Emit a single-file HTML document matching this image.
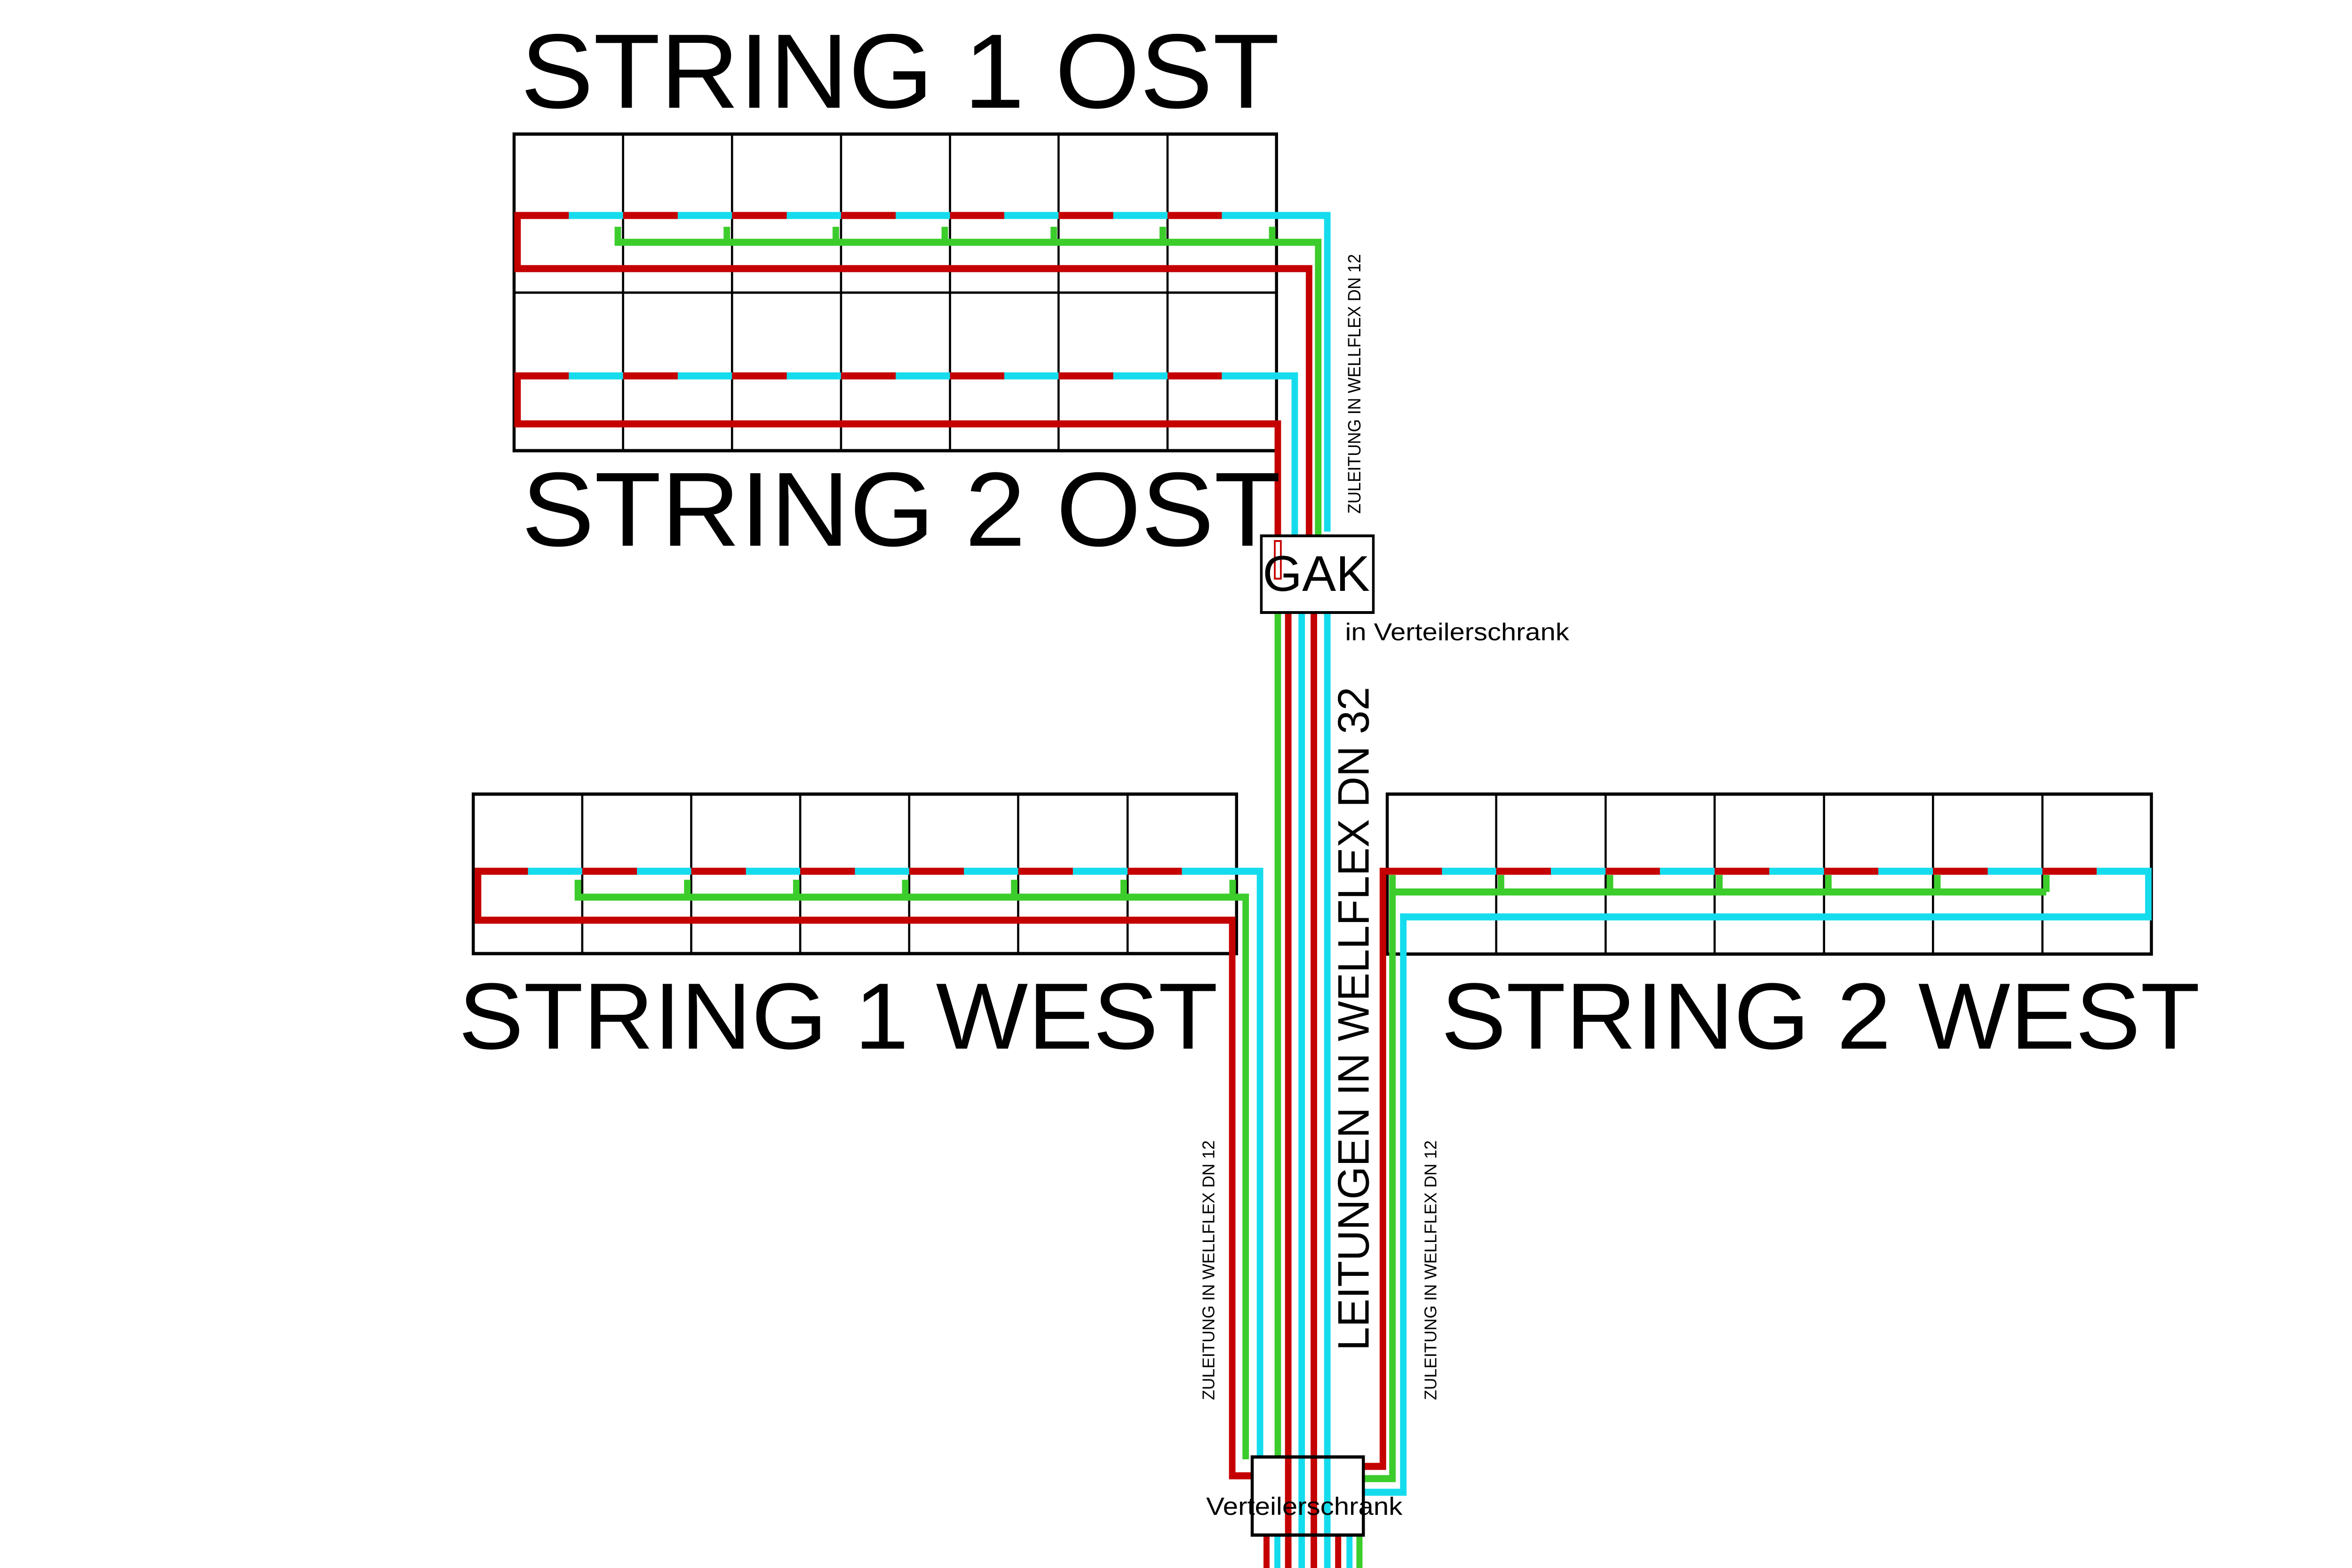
<!DOCTYPE html>
<html><head><meta charset="utf-8"><style>
html,body{margin:0;padding:0;background:#fff;width:100%;height:100%;overflow:hidden;}
svg{display:block;width:100vw;height:100vh;}
text{font-family:"Liberation Sans",Arial,sans-serif;fill:#000;}
</style></head><body>
<svg xmlns="http://www.w3.org/2000/svg" viewBox="0 0 5417 3333" preserveAspectRatio="none">
<rect width="5417" height="3333" fill="#fff"/>

<g stroke="#000" stroke-width="5" fill="none">
  <rect x="1184" y="285" width="1756" height="673" stroke-width="7"/>
  <line x1="1184" y1="622" x2="2940" y2="622"/>
  <line x1="1435" y1="285" x2="1435" y2="958"/><line x1="1686" y1="285" x2="1686" y2="958"/>
  <line x1="1937" y1="285" x2="1937" y2="958"/><line x1="2188" y1="285" x2="2188" y2="958"/>
  <line x1="2438" y1="285" x2="2438" y2="958"/><line x1="2689" y1="285" x2="2689" y2="958"/>

  <rect x="1090" y="1688" width="1758" height="339" stroke-width="7"/>
  <line x1="1341" y1="1688" x2="1341" y2="2027"/><line x1="1592" y1="1688" x2="1592" y2="2027"/>
  <line x1="1843" y1="1688" x2="1843" y2="2027"/><line x1="2094" y1="1688" x2="2094" y2="2027"/>
  <line x1="2345" y1="1688" x2="2345" y2="2027"/><line x1="2597" y1="1688" x2="2597" y2="2027"/>

  <rect x="3195" y="1688" width="1760" height="340" stroke-width="7"/>
  <line x1="3446" y1="1688" x2="3446" y2="2028"/><line x1="3698" y1="1688" x2="3698" y2="2028"/>
  <line x1="3949" y1="1688" x2="3949" y2="2028"/><line x1="4201" y1="1688" x2="4201" y2="2028"/>
  <line x1="4452" y1="1688" x2="4452" y2="2028"/><line x1="4704" y1="1688" x2="4704" y2="2028"/>
</g>

<g fill="none" stroke-width="15">
  <g stroke="#15dced">
    <line x1="1310" y1="458" x2="1435" y2="458"/><line x1="1561" y1="458" x2="1686" y2="458"/>
    <line x1="1812" y1="458" x2="1937" y2="458"/><line x1="2063" y1="458" x2="2188" y2="458"/>
    <line x1="2313" y1="458" x2="2438" y2="458"/><line x1="2564" y1="458" x2="2689" y2="458"/>
    <polyline points="2814,458 3057,458 3057,1130"/>
  </g>
  <g stroke="#c40000">
    <polyline points="1310,458 1192,458 1192,571 3015,571 3015,1150"/>
    <line x1="1435" y1="458" x2="1561" y2="458"/><line x1="1686" y1="458" x2="1812" y2="458"/>
    <line x1="1937" y1="458" x2="2063" y2="458"/><line x1="2188" y1="458" x2="2313" y2="458"/>
    <line x1="2438" y1="458" x2="2564" y2="458"/><line x1="2689" y1="458" x2="2814" y2="458"/>
  </g>
  <g stroke="#3ccc2c">
    <polyline points="1423,482 1423,515 3036,515 3036,1150"/>
    <line x1="1674" y1="482" x2="1674" y2="515"/><line x1="1925" y1="482" x2="1925" y2="515"/>
    <line x1="2176" y1="482" x2="2176" y2="515"/><line x1="2427" y1="482" x2="2427" y2="515"/>
    <line x1="2678" y1="482" x2="2678" y2="515"/><line x1="2930" y1="482" x2="2930" y2="515"/>
  </g>
</g>

<g fill="none" stroke-width="15">
  <g stroke="#15dced">
    <line x1="1310" y1="799" x2="1435" y2="799"/><line x1="1561" y1="799" x2="1686" y2="799"/>
    <line x1="1812" y1="799" x2="1937" y2="799"/><line x1="2063" y1="799" x2="2188" y2="799"/>
    <line x1="2313" y1="799" x2="2438" y2="799"/><line x1="2564" y1="799" x2="2689" y2="799"/>
    <polyline points="2814,799 2982,799 2982,1137"/>
  </g>
  <g stroke="#c40000">
    <polyline points="1310,799 1192,799 1192,901 2943,901 2943,1229"/>
    <line x1="1435" y1="799" x2="1561" y2="799"/><line x1="1686" y1="799" x2="1812" y2="799"/>
    <line x1="1937" y1="799" x2="2063" y2="799"/><line x1="2188" y1="799" x2="2313" y2="799"/>
    <line x1="2438" y1="799" x2="2564" y2="799"/><line x1="2689" y1="799" x2="2814" y2="799"/>
  </g>
</g>

<g fill="none" stroke-width="15">
  <line x1="2943" y1="1302" x2="2943" y2="3095" stroke="#3ccc2c"/>
  <line x1="2967" y1="1302" x2="2967" y2="3333" stroke="#c40000"/>
  <line x1="2998" y1="1302" x2="2998" y2="3333" stroke="#15dced"/>
  <line x1="3026" y1="1302" x2="3026" y2="3333" stroke="#c40000"/>
  <line x1="3057" y1="1302" x2="3057" y2="3333" stroke="#15dced"/>
</g>

<g fill="none" stroke-width="15">
  <g stroke="#15dced">
    <line x1="1216" y1="1852" x2="1341" y2="1852"/><line x1="1467" y1="1852" x2="1592" y2="1852"/>
    <line x1="1718" y1="1852" x2="1843" y2="1852"/><line x1="1969" y1="1852" x2="2094" y2="1852"/>
    <line x1="2220" y1="1852" x2="2345" y2="1852"/><line x1="2471" y1="1852" x2="2597" y2="1852"/>
    <polyline points="2722,1852 2902,1852 2902,3095"/>
  </g>
  <g stroke="#c40000">
    <polyline points="1216,1852 1101,1852 1101,1956 2838,1956 2838,3137 2883,3137"/>
    <line x1="1341" y1="1852" x2="1467" y2="1852"/><line x1="1592" y1="1852" x2="1718" y2="1852"/>
    <line x1="1843" y1="1852" x2="1969" y2="1852"/><line x1="2094" y1="1852" x2="2220" y2="1852"/>
    <line x1="2345" y1="1852" x2="2471" y2="1852"/><line x1="2597" y1="1852" x2="2722" y2="1852"/>
  </g>
  <g stroke="#3ccc2c">
    <polyline points="1331,1870 1331,1907 2869,1907 2869,3102"/>
    <line x1="1583" y1="1870" x2="1583" y2="1907"/><line x1="1834" y1="1870" x2="1834" y2="1907"/>
    <line x1="2085" y1="1870" x2="2085" y2="1907"/><line x1="2336" y1="1870" x2="2336" y2="1907"/>
    <line x1="2588" y1="1870" x2="2588" y2="1907"/><line x1="2839" y1="1870" x2="2839" y2="1907"/>
  </g>
</g>

<g fill="none" stroke-width="15">
  <g stroke="#15dced">
    <line x1="3321" y1="1852" x2="3446" y2="1852"/><line x1="3572" y1="1852" x2="3698" y2="1852"/>
    <line x1="3823" y1="1852" x2="3949" y2="1852"/><line x1="4075" y1="1852" x2="4201" y2="1852"/>
    <line x1="4326" y1="1852" x2="4452" y2="1852"/><line x1="4578" y1="1852" x2="4704" y2="1852"/>
    <polyline points="4829,1852 4948,1852 4948,1949 3232,1949 3232,3172 3141,3172"/>
  </g>
  <g stroke="#c40000">
    <polyline points="3321,1852 3185,1852 3185,3117 3141,3117"/>
    <line x1="3446" y1="1852" x2="3572" y2="1852"/><line x1="3698" y1="1852" x2="3823" y2="1852"/>
    <line x1="3949" y1="1852" x2="4075" y2="1852"/><line x1="4201" y1="1852" x2="4326" y2="1852"/>
    <line x1="4452" y1="1852" x2="4578" y2="1852"/><line x1="4704" y1="1852" x2="4829" y2="1852"/>
  </g>
  <g stroke="#3ccc2c">
    <polyline points="3207,1860 3207,3143 3141,3143"/>
    <line x1="3207" y1="1896" x2="4713" y2="1896"/>
    <line x1="3457" y1="1860" x2="3457" y2="1896"/><line x1="3708" y1="1860" x2="3708" y2="1896"/>
    <line x1="3960" y1="1860" x2="3960" y2="1896"/><line x1="4211" y1="1860" x2="4211" y2="1896"/>
    <line x1="4462" y1="1860" x2="4462" y2="1896"/><line x1="4713" y1="1860" x2="4713" y2="1896"/>
  </g>
</g>

<g fill="none" stroke-width="14">
  <line x1="2917" y1="3263" x2="2917" y2="3333" stroke="#c40000"/>
  <line x1="2942" y1="3263" x2="2942" y2="3333" stroke="#15dced"/>
  <line x1="3082" y1="3263" x2="3082" y2="3333" stroke="#c40000"/>
  <line x1="3108" y1="3263" x2="3108" y2="3333" stroke="#15dced"/>
  <line x1="3131" y1="3263" x2="3131" y2="3333" stroke="#3ccc2c"/>
</g>

<rect x="2905" y="1139" width="258" height="163" fill="#fff" stroke="#000" stroke-width="6"/>
<rect x="2936" y="1150" width="14" height="80" fill="none" stroke="#c40000" stroke-width="4"/>
<rect x="2884" y="3097" width="256" height="166" fill="none" stroke="#000" stroke-width="7"/>

<text x="1199" y="229" font-size="225" textLength="1748" lengthAdjust="spacingAndGlyphs">STRING 1 OST</text>
<text x="1201" y="1160" font-size="224" textLength="1749" lengthAdjust="spacingAndGlyphs">STRING 2 OST</text>
<text x="1056" y="2229" font-size="200" textLength="1749" lengthAdjust="spacingAndGlyphs">STRING 1 WEST</text>
<text x="3319" y="2229" font-size="200" textLength="1748" lengthAdjust="spacingAndGlyphs">STRING 2 WEST</text>
<text x="2908" y="1256" font-size="107" textLength="247" lengthAdjust="spacingAndGlyphs">GAK</text>
<text x="3098" y="1361" font-size="52" textLength="516" lengthAdjust="spacingAndGlyphs">in Verteilerschrank</text>
<text x="2778" y="3220" font-size="53" textLength="452" lengthAdjust="spacingAndGlyphs">Verteilerschrank</text>
<text transform="translate(3133,1092) rotate(-90)" font-size="41" textLength="552" lengthAdjust="spacingAndGlyphs">ZULEITUNG IN WELLFLEX DN 12</text>
<text transform="translate(3152,2871) rotate(-90)" font-size="102" textLength="1411" lengthAdjust="spacingAndGlyphs">LEITUNGEN IN WELLFLEX DN 32</text>
<text transform="translate(2797,2976) rotate(-90)" font-size="39" textLength="552" lengthAdjust="spacingAndGlyphs">ZULEITUNG IN WELLFLEX DN 12</text>
<text transform="translate(3308,2976) rotate(-90)" font-size="39" textLength="552" lengthAdjust="spacingAndGlyphs">ZULEITUNG IN WELLFLEX DN 12</text>
</svg>
</body></html>
